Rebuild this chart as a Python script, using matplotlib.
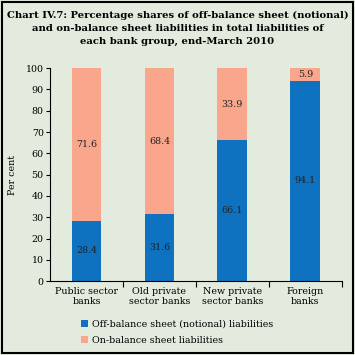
import numpy as np
import matplotlib
matplotlib.use('Agg')
import matplotlib.pyplot as plt
from matplotlib.patches import Rectangle

categories = ['Public sector\nbanks', 'Old private\nsector banks', 'New private\nsector banks', 'Foreign\nbanks']
off_balance = [28.4, 31.6, 66.1, 94.1]
on_balance = [71.6, 68.4, 33.9, 5.9]
series_names = ['Off-balance sheet (notional) liabilities', 'On-balance sheet liabilities']

bg = '#e3ebdf'
blue = '#0f72c0'
salmon = '#f9a68c'

plt.rcParams['font.family'] = 'DejaVu Serif'

fig = plt.figure(figsize=(3.55, 3.55), dpi=100, facecolor=bg)
ax = fig.add_axes([0.141, 0.208, 0.822, 0.60])
ax.set_facecolor(bg)

x = np.arange(len(categories))
w = 0.41
b1 = ax.bar(x, off_balance, w, color=blue, label=series_names[0])
b2 = ax.bar(x, on_balance, w, bottom=off_balance, color=salmon, label=series_names[1])

# value labels in the middle of each segment
for i in range(len(x)):
    ax.text(x[i], off_balance[i] / 2, f'{off_balance[i]:.1f}', ha='center', va='center', fontsize=6.8, color='#222222')
    ax.text(x[i], off_balance[i] + on_balance[i] / 2, f'{on_balance[i]:.1f}', ha='center', va='center', fontsize=6.8, color='#222222')

ax.set_xlim(-0.5, 3.5)
ax.set_ylim(0, 100)
ax.set_yticks(np.arange(0, 101, 10))
ax.set_xticks(x)
ax.set_xticklabels(categories, fontsize=6.8, linespacing=1.15)
ax.set_xticks([0.5, 1.5, 2.5, 3.5], minor=True)
ax.tick_params(axis='x', which='major', length=0, pad=4)
ax.tick_params(axis='x', which='minor', length=4, direction='out', width=0.8)
ax.tick_params(axis='y', length=3, width=0.8, labelsize=6.8, pad=1.5)
ax.spines['top'].set_visible(False)
ax.spines['right'].set_visible(False)
ax.spines['left'].set_linewidth(0.8)
ax.spines['bottom'].set_linewidth(0.8)
ax.set_ylabel('Per cent', fontsize=6.8, labelpad=6)

fig.legend(handles=[b1, b2], labels=series_names, loc='upper left', bbox_to_anchor=(0.214, 0.113),
           frameon=False, fontsize=6.8, handlelength=0.8, handleheight=0.8, handletextpad=0.4,
           labelspacing=0.78, borderpad=0)

fig.text(0.5, 0.969, 'Chart IV.7: Percentage shares of off-balance sheet (notional)\n'
         'and on-balance sheet liabilities in total liabilities of\n'
         'each bank group, end-March 2010',
         ha='center', va='top', fontsize=7.2, fontweight='bold', linespacing=1.55)

fig.patches.append(Rectangle((0.006, 0.006), 0.988, 0.988, transform=fig.transFigure,
                             fill=False, edgecolor='black', linewidth=1.5))

plt.savefig('out.png', dpi=100, facecolor=bg)
